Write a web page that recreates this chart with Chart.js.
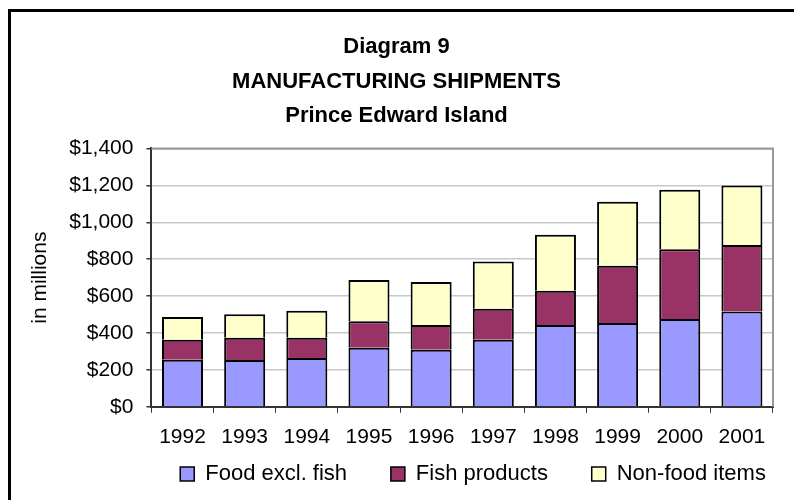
<!DOCTYPE html>
<html>
<head>
<meta charset="utf-8">
<script src="https://cdn.jsdelivr.net/npm/chart.js@4.4.1/dist/chart.umd.min.js"></script>
<style>
  html, body { margin: 0; padding: 0; background: #fff; overflow: hidden; }
  #wrap { position: relative; width: 794px; height: 500px; }
  #frame { position: absolute; left: 8px; top: 9px; width: 800px; height: 520px; border: 3px solid #000; box-sizing: border-box; pointer-events: none; }
  canvas { position: absolute; left: 0; top: 0; }
</style>
</head>
<body>
<div id="wrap">
  <canvas id="c" width="794" height="500"></canvas>
  <div id="frame"></div>
</div>
<script>
const categories = ['1992','1993','1994','1995','1996','1997','1998','1999','2000','2001'];
const foodExclFish = [255, 253, 264, 320, 309, 364, 443, 454, 476, 517];
const fishProducts = [109, 121, 110, 143, 134, 168, 186, 311, 378, 360];
const nonFoodItems = [123, 127, 147, 224, 234, 255, 303, 346, 323, 322];
const seriesNames = ['Food excl. fish', 'Fish products', 'Non-food items'];
const titleLines = ['Diagram 9', 'MANUFACTURING SHIPMENTS', 'Prince Edward Island'];
const yAxisTitle = 'in millions';

const FONT = "'Liberation Sans', Arial, Helvetica, sans-serif";

const plotBorder = {
  id: 'plotBorder',
  afterDatasetsDraw(chart) {
    const { ctx, chartArea: a } = chart;
    ctx.save();
    ctx.strokeStyle = '#999';
    ctx.lineWidth = 2;
    ctx.beginPath();
    ctx.moveTo(a.left, a.top);
    ctx.lineTo(a.right, a.top);
    ctx.lineTo(a.right, a.bottom);
    ctx.stroke();
    ctx.restore();
  }
};

// spacing after legend labels (gap before the next legend entry)
const legendGap = ['       ', '       ', ' '];

new Chart(document.getElementById('c'), {
  type: 'bar',
  data: {
    labels: categories,
    datasets: [
      { label: seriesNames[0], data: foodExclFish, backgroundColor: '#9999FF' },
      { label: seriesNames[1], data: fishProducts, backgroundColor: '#993366' },
      { label: seriesNames[2], data: nonFoodItems, backgroundColor: '#FFFFCC' }
    ]
  },
  options: {
    responsive: false,
    animation: false,
    devicePixelRatio: 1,
    layout: { padding: { left: 20, right: 21, bottom: 5, top: 0 } },
    datasets: {
      bar: {
        borderColor: '#000',
        borderWidth: 2,
        categoryPercentage: 1.0,
        barPercentage: 0.66
      }
    },
    plugins: {
      title: {
        display: true,
        text: titleLines,
        color: '#000',
        font: { family: FONT, size: 22, weight: 'bold', lineHeight: 1.568 },
        padding: { top: 30, bottom: 15 }
      },
      legend: {
        position: 'bottom',
        align: 'end',
        fullSize: false,
        labels: {
          color: '#000',
          font: { family: FONT, size: 22 },
          boxWidth: 14,
          boxHeight: 14,
          padding: 1,
          generateLabels(chart) {
            const items = Chart.defaults.plugins.legend.labels.generateLabels(chart);
            items.forEach((it, i) => {
              it.text = it.text + legendGap[i];
              it.strokeStyle = '#000';
              it.lineWidth = 1.5;
            });
            return items;
          }
        }
      },
      tooltip: { enabled: false }
    },
    scales: {
      x: {
        stacked: true,
        grid: {
          display: true,
          drawOnChartArea: false,
          drawTicks: true,
          tickLength: 6,
          tickColor: '#333',
          offset: true
        },
        border: { display: true, color: '#333', width: 2 },
        ticks: {
          color: '#000',
          font: { family: FONT, size: 21 },
          padding: 12,
          maxRotation: 0,
          autoSkip: false
        }
      },
      y: {
        stacked: true,
        min: 0,
        max: 1400,
        grid: {
          color: (c) => (c.tick && c.tick.value === 1400 ? '#999' : '#c8c8c8'),
          lineWidth: 1.5,
          tickLength: 5,
          tickColor: '#333'
        },
        border: { display: true, color: '#333', width: 2 },
        ticks: {
          stepSize: 200,
          color: '#000',
          font: { family: FONT, size: 21 },
          padding: 13,
          callback: (v) => '$' + Number(v).toLocaleString('en-US')
        },
        title: {
          display: true,
          text: yAxisTitle,
          color: '#000',
          font: { family: FONT, size: 21 },
          padding: { top: 8, bottom: 3 }
        }
      }
    }
  },
  plugins: [plotBorder]
});
</script>
</body>
</html>
